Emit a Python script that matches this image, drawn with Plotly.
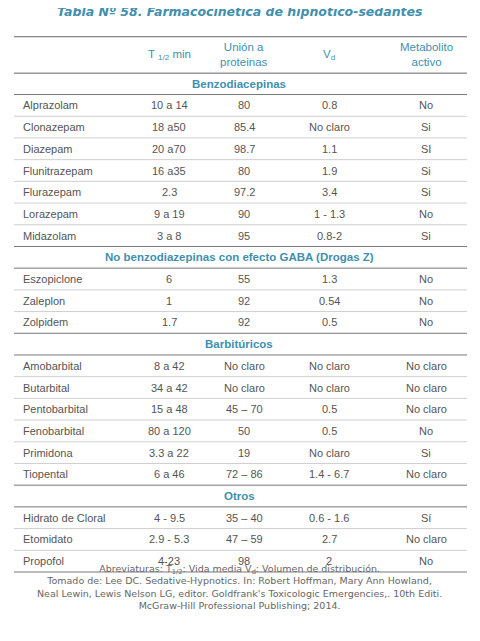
import plotly.graph_objects as go

title = "Tabla Nº 58. Farmacocinética de hipnótico-sedantes"
headers = ["", "T <sub>1/2</sub> min", "Unión a<br>proteinas", "V<sub>d</sub>", "Metabolito<br>activo"]

# rows: (section title) or [drug, t12, union, vd, metabolito]
rows = [
    "Benzodiacepinas",
    ["Alprazolam", "10 a 14", "80", "0.8", "No"],
    ["Clonazepam", "18 a50", "85.4", "No claro", "Si"],
    ["Diazepam", "20 a70", "98.7", "1.1", "SI"],
    ["Flunitrazepam", "16 a35", "80", "1.9", "Si"],
    ["Flurazepam", "2.3", "97.2", "3.4", "Si"],
    ["Lorazepam", "9 a 19", "90", "1 - 1.3", "No"],
    ["Midazolam", "3 a 8", "95", "0.8-2", "Si"],
    "No benzodiazepinas con efecto GABA (Drogas Z)",
    ["Eszopiclone", "6", "55", "1.3", "No"],
    ["Zaleplon", "1", "92", "0.54", "No"],
    ["Zolpidem", "1.7", "92", "0.5", "No"],
    "Barbitúricos",
    ["Amobarbital", "8 a 42", "No claro", "No claro", "No claro"],
    ["Butarbital", "34 a 42", "No claro", "No claro", "No claro"],
    ["Pentobarbital", "15 a 48", "45 – 70", "0.5", "No claro"],
    ["Fenobarbital", "80 a 120", "50", "0.5", "No"],
    ["Primidona", "3.3 a 22", "19", "No claro", "Si"],
    ["Tiopental", "6 a 46", "72 – 86", "1.4 - 6.7", "No claro"],
    "Otros",
    ["Hidrato de Cloral", "4 - 9.5", "35 – 40", "0.6 - 1.6", "Sí"],
    ["Etomidato", "2.9 - 5.3", "47 – 59", "2.7", "No claro"],
    ["Propofol", "4-23", "98", "2", "No"],
]

footer = ("Abreviaturas: T<sub>1/2</sub>: Vida media V<sub>d</sub>: Volumen de distribución.<br>"
          "Tomado de: Lee DC. Sedative-Hypnotics. In: Robert Hoffman, Mary Ann Howland,<br>"
          "Neal Lewin, Lewis Nelson LG, editor. Goldfrank's Toxicologic Emergencies,. 10th Editi.<br>"
          "McGraw-Hill Professional Publishing; 2014.")

blue = "#3f8fae"
text_c = "#555555"
col_x = [22, 170, 245, 330, 427]
x0, x1 = 15, 468
y_first = 87
step = 22.65
cell_font = "Liberation Sans"

fig = go.Figure()
shapes = []
ann = []

ann.append(dict(x=240, y=12, text="<b><i>" + title + "</i></b>", showarrow=False,
                font=dict(family="DejaVu Sans", size=12.5, color=blue)))
for i, h in enumerate(headers):
    if h:
        ann.append(dict(x=col_x[i], y=57, text=h, showarrow=False,
                        font=dict(family=cell_font, size=11.5, color=blue)))
shapes.append(dict(type="line", x0=x0, x1=x1, y0=38, y1=38, line=dict(color="#666", width=1)))
shapes.append(dict(type="line", x0=x0, x1=x1, y0=76, y1=76, line=dict(color="#666", width=1)))

for k, r in enumerate(rows):
    y = y_first + k * step
    yb = y + step / 2
    if isinstance(r, str):
        ann.append(dict(x=240, y=y, text="<b>" + r + "</b>", showarrow=False,
                        font=dict(family=cell_font, size=11.5, color=blue)))
        shapes.append(dict(type="line", x0=x0, x1=x1, y0=yb, y1=yb, line=dict(color="#777", width=1)))
    else:
        for i, v in enumerate(r):
            ann.append(dict(x=col_x[i], y=y, text=v, showarrow=False,
                            xanchor="left" if i == 0 else "center",
                            font=dict(family=cell_font, size=11, color=text_c)))
        nxt = rows[k + 1] if k + 1 < len(rows) else None
        c = "#777" if (nxt is None or isinstance(nxt, str)) else "#cfcfcf"
        shapes.append(dict(type="line", x0=x0, x1=x1, y0=yb, y1=yb, line=dict(color=c, width=1)))

ann.append(dict(x=240, y=612, text=footer, showarrow=False,
                font=dict(family="DejaVu Sans", size=9.5, color="#666")))

fig.update_layout(
    width=480, height=641, margin=dict(l=0, r=0, t=0, b=0),
    paper_bgcolor="white", plot_bgcolor="white",
    xaxis=dict(range=[9, 489], visible=False, fixedrange=True),
    yaxis=dict(range=[677, 8], visible=False, fixedrange=True),
    shapes=shapes, annotations=ann, showlegend=False,
)
fig.write_html("out.html")
